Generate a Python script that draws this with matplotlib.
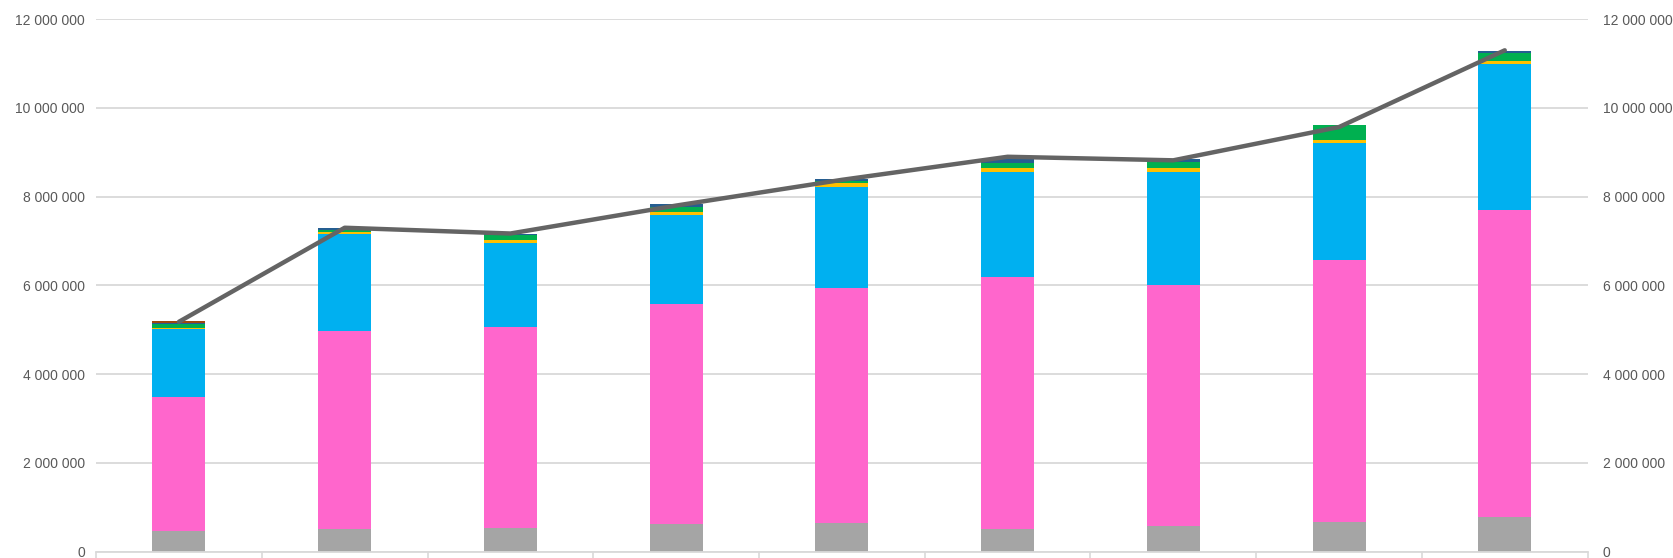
import numpy as np
import matplotlib.pyplot as plt
import matplotlib as mpl
from matplotlib.ticker import FuncFormatter, FixedLocator

mpl.rcParams.update({
    "font.family": ["Liberation Sans", "DejaVu Sans"],
    "font.size": 10,
})

# stacked segments, bottom to top (units: 1)
gray = [470000, 500000, 530000, 620000, 650000, 520000, 580000, 660000, 780000]
pink = [3010000, 4480000, 4540000, 4960000, 5290000, 5660000, 5430000, 5910000, 6930000]
cyan = [1530000, 2190000, 1890000, 2010000, 2280000, 2370000, 2550000, 2630000, 3280000]
yellow = [40000, 30000, 60000, 70000, 90000, 100000, 90000, 80000, 70000]
green = [70000, 60000, 120000, 100000, 50000, 100000, 140000, 330000, 190000]
navy = [40000, 40000, 20000, 70000, 50000, 100000, 50000, 0, 40000]
brown = [40000, 0, 0, 0, 0, 0, 0, 0, 0]

# total line (secondary axis)
total_line = [5180000, 7300000, 7170000, 7800000, 8380000, 8900000, 8820000, 9570000, 11300000]

series = [
    (gray, "#A5A5A5"),
    (pink, "#FF66CC"),
    (cyan, "#00B0F0"),
    (yellow, "#FFC000"),
    (green, "#00B050"),
    (navy, "#255E91"),
    (brown, "#9E480E"),
]

x = np.arange(len(gray))
fig = plt.figure(figsize=(16.74, 5.58), dpi=100)
ax = fig.add_axes([0.0574, 0.0115, 0.891, 0.954])

bottom = np.zeros(len(x))
for vals, color in series:
    vals = np.array(vals, dtype=float)
    ax.bar(x, vals, width=0.32, bottom=bottom, color=color, zorder=2)
    bottom += vals

ymax = 12000000
ax.set_ylim(0, ymax)
ax.set_xlim(-0.5, len(x) - 0.5)

fmt = FuncFormatter(lambda v, p: f"{int(v):,}".replace(",", " "))
ax.yaxis.set_major_locator(FixedLocator(np.arange(0, ymax + 1, 2000000)))
ax.yaxis.set_major_formatter(fmt)
ax.grid(axis="y", color="#D9D9D9", linewidth=1.3, zorder=0)
ax.set_axisbelow(True)

# category boundary ticks, no labels
ax.xaxis.set_major_locator(FixedLocator(np.arange(-0.5, len(x), 1.0)))
ax.set_xticklabels([])
ax.tick_params(axis="x", length=7, width=1.2, color="#D9D9D9", direction="out")
ax.tick_params(axis="y", length=0, pad=8, labelcolor="#595959")

for side in ["top", "right", "left"]:
    ax.spines[side].set_visible(False)
ax.spines["bottom"].set_color("#D9D9D9")
ax.spines["bottom"].set_linewidth(1.3)

ax2 = ax.twinx()
ax2.set_ylim(0, ymax)
ax2.yaxis.set_major_locator(FixedLocator(np.arange(0, ymax + 1, 2000000)))
ax2.yaxis.set_major_formatter(fmt)
ax2.tick_params(axis="y", length=0, pad=11, labelcolor="#595959")
for side in ["top", "right", "left", "bottom"]:
    ax2.spines[side].set_visible(False)
ax2.plot(x, total_line, color="#646464", linewidth=3.2, solid_joinstyle="round",
         solid_capstyle="round", zorder=3)

fig.savefig("out.png", dpi=100)
